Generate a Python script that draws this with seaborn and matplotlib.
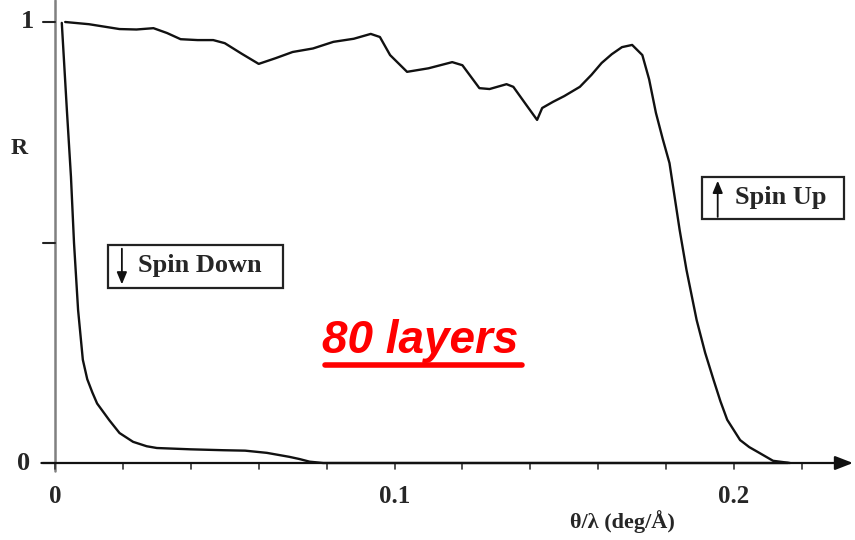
import matplotlib
matplotlib.use("Agg")
import matplotlib.pyplot as plt
from matplotlib.patches import Rectangle
from matplotlib.lines import Line2D
import numpy as np
import pandas as pd
import seaborn as sns

# Reflectivity R versus theta/lambda (deg/Å) for the two neutron spin states
spin_up_x = [0.003, 0.010, 0.019, 0.024, 0.029, 0.033, 0.037, 0.042, 0.0466, 0.050,
             0.055, 0.060, 0.065, 0.070, 0.076, 0.082, 0.088, 0.093, 0.0957, 0.0987,
             0.1037, 0.110, 0.117, 0.120, 0.125, 0.128, 0.133, 0.135, 0.139, 0.142,
             0.1435, 0.1467, 0.150, 0.1546, 0.158, 0.161, 0.164, 0.167, 0.170, 0.173,
             0.175, 0.177, 0.179, 0.181, 0.184, 0.186, 0.189, 0.1915, 0.194, 0.196,
             0.198, 0.2018, 0.2045, 0.207, 0.2115, 0.2165]
spin_up_r = [1.000, 0.995, 0.984, 0.983, 0.986, 0.975, 0.961, 0.959, 0.959, 0.952,
             0.928, 0.905, 0.918, 0.932, 0.940, 0.955, 0.962, 0.973, 0.966, 0.925,
             0.887, 0.895, 0.909, 0.902, 0.850, 0.848, 0.859, 0.853, 0.810, 0.778,
             0.805, 0.819, 0.832, 0.853, 0.880, 0.907, 0.927, 0.943, 0.948, 0.925,
             0.870, 0.794, 0.735, 0.680, 0.528, 0.438, 0.324, 0.250, 0.188, 0.140,
             0.098, 0.052, 0.036, 0.025, 0.005, 0.000]

spin_down_x = [0.002, 0.0035, 0.0047, 0.0056, 0.0068, 0.0082, 0.0095, 0.0110, 0.0124,
               0.016, 0.019, 0.023, 0.027, 0.030, 0.040, 0.0495, 0.056, 0.0624, 0.069,
               0.072, 0.075, 0.079, 0.216]
spin_down_r = [0.998, 0.800, 0.649, 0.499, 0.347, 0.234, 0.190, 0.160, 0.135,
               0.097, 0.068, 0.048, 0.038, 0.034, 0.031, 0.029, 0.028, 0.023, 0.014,
               0.009, 0.003, 0.000, 0.000]

x_major = [0.0, 0.1, 0.2]
x_major_labels = ["0", "0.1", "0.2"]
x_minor = [0.02, 0.04, 0.06, 0.08, 0.12, 0.14, 0.16, 0.18, 0.22]
y_ticks = [0.0, 0.5, 1.0]

df = pd.concat([
    pd.DataFrame({"theta": spin_up_x, "R": spin_up_r, "spin": "up"}),
    pd.DataFrame({"theta": spin_down_x, "R": spin_down_r, "spin": "down"}),
], ignore_index=True)

sns.set_theme(style="white")
plt.rcParams["font.family"] = ["Liberation Serif", "DejaVu Serif"]

fig = plt.figure(figsize=(8.55, 5.4), dpi=100)
W, H = 855, 540
x0_px, x1_px = 55, 853
y0_px = 463
xmax = (x1_px - x0_px) / 3395.0
ymax = y0_px / 441.0
ax = fig.add_axes([x0_px / W, (H - y0_px) / H, (x1_px - x0_px) / W, y0_px / H])
ax.set_xlim(0, xmax)
ax.set_ylim(0, ymax)

sns.lineplot(data=df, x="theta", y="R", hue="spin", units="spin", estimator=None,
             palette={"up": "#111111", "down": "#111111"}, linewidth=1.7,
             legend=False, ax=ax, clip_on=False)

for s in ax.spines.values():
    s.set_visible(False)
ax.set_xlabel("")
ax.set_ylabel("")
ax.set_xticks([])
ax.set_yticks([])

# axis lines drawn by hand: x axis with arrow head, y axis slightly past origin
ax.annotate("", xy=(xmax, 0), xytext=(-0.004, 0), xycoords="data",
            arrowprops=dict(arrowstyle="-|>,head_length=0.9,head_width=0.35",
                            color="#111111", lw=1.6, shrinkA=0, shrinkB=0),
            annotation_clip=False)
ax.add_line(Line2D([0, 0], [-0.018, ymax], color="#808080", lw=1.8, clip_on=False))

# tick marks
for xv in x_major + x_minor:
    ax.add_line(Line2D([xv, xv], [0, -0.014], color="#333333", lw=1.2, clip_on=False))
for yv in y_ticks:
    ax.add_line(Line2D([-0.0035, 0], [yv, yv], color="#222222", lw=1.5, clip_on=False))

# tick labels
for xv, lab in zip(x_major, x_major_labels):
    ax.text(xv, -0.075, lab, ha="center", va="center", fontsize=18, fontweight="bold")
ax.text(-0.0082, 1.0, "1", ha="center", va="center", fontsize=19, fontweight="bold")
ax.text(-0.0092, 0.0, "0", ha="center", va="center", fontsize=19, fontweight="bold")
ax.text(-0.0105, 0.714, "R", ha="center", va="center", fontsize=17, fontweight="bold")
ax.text(0.167, -0.133, "θ/λ (deg/Å)", ha="center", va="center", fontsize=16,
        fontweight="bold")

# spin labels in boxes
ax.add_patch(Rectangle((0.0156, 0.397), 0.0516, 0.097, fill=False, ec="#222222",
                       lw=1.6, clip_on=False))
ax.annotate("", xy=(0.0197, 0.405), xytext=(0.0197, 0.486),
            arrowprops=dict(arrowstyle="-|>,head_length=0.6,head_width=0.25",
                            color="#111111", lw=1.3, shrinkA=0, shrinkB=0),
            annotation_clip=False)
ax.text(0.0244, 0.447, "Spin Down", ha="left", va="center", fontsize=19,
        fontweight="bold")

ax.add_patch(Rectangle((0.1906, 0.553), 0.0418, 0.096, fill=False, ec="#222222",
                       lw=1.6, clip_on=False))
ax.annotate("", xy=(0.1952, 0.640), xytext=(0.1952, 0.558),
            arrowprops=dict(arrowstyle="-|>,head_length=0.6,head_width=0.25",
                            color="#111111", lw=1.3, shrinkA=0, shrinkB=0),
            annotation_clip=False)
ax.text(0.2003, 0.601, "Spin Up", ha="left", va="center", fontsize=19,
        fontweight="bold")

# red underlined caption
ax.text(0.1075, 0.277, "80 layers", ha="center", va="center", fontsize=33,
        fontweight="bold", fontstyle="italic", color="#ff0000",
        family=["Liberation Sans", "DejaVu Sans"])
ax.add_line(Line2D([0.0796, 0.1375], [0.222, 0.222], color="#ff0000", lw=4,
                   clip_on=False))

fig.savefig("out.png", dpi=100, facecolor="white")
